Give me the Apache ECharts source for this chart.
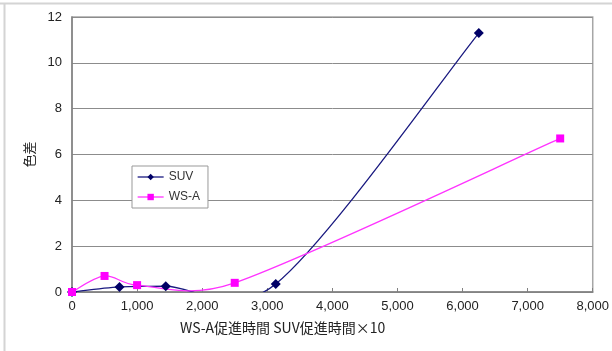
<!DOCTYPE html>
<html><head><meta charset="utf-8">
<script src="https://cdn.jsdelivr.net/npm/echarts@6/dist/echarts.min.js"></script>
<style>html,body{margin:0;padding:0;background:#fff}#c{width:612px;height:351px}</style>
</head><body><div id="c"></div>
<script>
const suvX = [0, 730, 1440, 3130, 6250];
const suvY = [0, 0.22, 0.25, 0.35, 11.3];
const wsX = [0, 500, 1000, 2500, 7500];
const wsY = [0, 0.7, 0.3, 0.4, 6.7];
const xTicks = [0, 1000, 2000, 3000, 4000, 5000, 6000, 7000, 8000];
const yTicks = [0, 2, 4, 6, 8, 10, 12];
const xTitle = 'WS-A促進時間 SUV促進時間×10';
const yTitle = '色差';

const suvColor = '#1a1a80', wsColor = '#ff33ff';
const font = '"Liberation Sans", Arial, "Noto Sans CJK JP", sans-serif';

// Excel-style smoothed segment (Catmull-Rom, control arm capped at half the segment)
function smoothRenderer(xs, ys, color) {
  return function (params, api) {
    const i = params.dataIndex, n = xs.length;
    if (i >= n - 1) return null;
    const P = k => { const j = Math.max(0, Math.min(n - 1, k)); return api.coord([xs[j], ys[j]]); };
    const p0 = P(i - 1), p1 = P(i), p2 = P(i + 1), p3 = P(i + 2);
    const d12 = Math.hypot(p2[0] - p1[0], p2[1] - p1[1]);
    function arm(a, b) {
      let dx = (b[0] - a[0]) / 6, dy = (b[1] - a[1]) / 6;
      const L = Math.hypot(dx, dy);
      if (L > d12 / 2) { const s = (d12 / 2) / L; dx *= s; dy *= s; }
      return [dx, dy];
    }
    const a1 = arm(p0, p2), a2 = arm(p1, p3);
    const cs = params.coordSys;
    return {
      type: 'group',
      clipPath: {type: 'rect', shape: {x: cs.x, y: cs.y, width: cs.width, height: cs.height}},
      children: [{
        type: 'bezierCurve',
        shape: {
          x1: p1[0], y1: p1[1], x2: p2[0], y2: p2[1],
          cpx1: p1[0] + a1[0], cpy1: p1[1] + a1[1],
          cpx2: p2[0] - a2[0], cpy2: p2[1] - a2[1]
        },
        style: {stroke: color, lineWidth: 1.3, fill: null}
      }]
    };
  };
}

const chart = echarts.init(document.getElementById('c'), null, {renderer: 'canvas'});
chart.setOption({
  animation: false,
  textStyle: {fontFamily: font},
  grid: {left: 72, right: 17, top: 17, bottom: 59, show: true, borderColor: '#a6a6a6', borderWidth: 1.5},
  legend: {
    orient: 'vertical', left: 132, top: 166,
    itemWidth: 26, itemHeight: 8, itemGap: 8,
    padding: [5, 8, 5, 5],
    borderColor: '#999', borderWidth: 1, backgroundColor: '#fff',
    textStyle: {fontSize: 12, color: '#333', fontFamily: font},
    data: [
      {name: 'SUV', lineStyle: {color: suvColor, width: 1.3, opacity: 1}},
      {name: 'WS-A', lineStyle: {color: wsColor, width: 1.3, opacity: 1}}
    ]
  },
  xAxis: {
    type: 'value', min: xTicks[0], max: xTicks[xTicks.length - 1], interval: 1000,
    axisLine: {show: true, lineStyle: {color: '#808080', width: 1.5}},
    axisTick: {show: true, inside: true, length: 4, lineStyle: {color: '#808080'}},
    axisLabel: {color: '#222', fontSize: 13, margin: 8,
      formatter: v => v.toLocaleString('en-US')},
    splitLine: {show: false}
  },
  yAxis: {
    type: 'value', min: yTicks[0], max: yTicks[yTicks.length - 1], interval: 2,
    name: yTitle, nameLocation: 'middle', nameRotate: 90, nameGap: 31,
    nameTextStyle: {fontSize: 13, color: '#222', fontFamily: font},
    axisLine: {show: true, lineStyle: {color: '#808080', width: 1.5}},
    axisTick: {show: false},
    axisLabel: {color: '#222', fontSize: 13, margin: 10},
    splitLine: {show: true, lineStyle: {color: '#8c8c8c', width: 1}}
  },
  graphic: [
    {type: 'line', shape: {x1: 0, y1: 3.5, x2: 612, y2: 3.5}, style: {stroke: '#d4d4d4', lineWidth: 2}},
    {type: 'line', shape: {x1: 4.5, y1: 3, x2: 4.5, y2: 351}, style: {stroke: '#d4d4d4', lineWidth: 2}},
    {type: 'text', left: 180, top: 321, style: {text: xTitle, fontSize: 14, fill: '#222',
      fontFamily: '"Noto Sans CJK JP", sans-serif'}}
  ],
  series: [
    {
      name: 'SUV-curve', type: 'custom', clip: true, z: 1,
      renderItem: smoothRenderer(suvX, suvY, suvColor),
      data: suvX.map((x, i) => [x, suvY[i]])
    },
    {
      name: 'WS-A-curve', type: 'custom', clip: true, z: 1,
      renderItem: smoothRenderer(wsX, wsY, wsColor),
      data: wsX.map((x, i) => [x, wsY[i]])
    },
    {
      name: 'SUV', type: 'line', z: 3,
      data: suvX.map((x, i) => [x, suvY[i]]),
      symbol: 'diamond', symbolSize: 10,
      lineStyle: {color: suvColor, width: 1.3, opacity: 0},
      itemStyle: {color: '#000066'}
    },
    {
      name: 'WS-A', type: 'line', z: 3,
      data: wsX.map((x, i) => [x, wsY[i]]),
      symbol: 'rect', symbolSize: 8,
      lineStyle: {color: wsColor, width: 1.3, opacity: 0},
      itemStyle: {color: '#ff00ff'}
    }
  ]
});
</script></body></html>
